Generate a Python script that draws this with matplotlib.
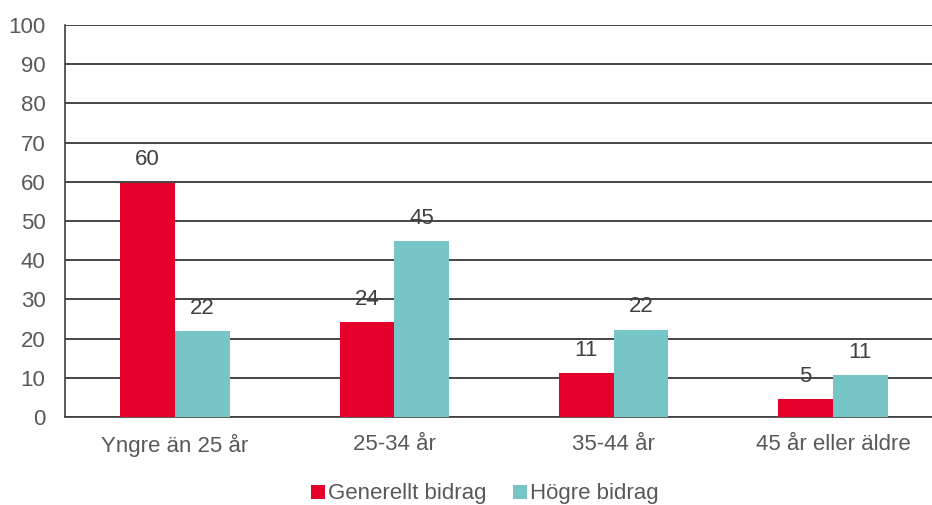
import numpy as np
import matplotlib.pyplot as plt

plt.rcParams['font.family'] = ['Liberation Sans', 'DejaVu Sans']

# data
categories = ['Yngre än 25 år', '25-34 år', '35-44 år', '45 år eller äldre']
generellt = [59.8, 24.3, 11.1, 4.6]
hogre = [22.0, 44.9, 22.3, 10.6]
generellt_labels = ['60', '24', '11', '5']
hogre_labels = ['22', '45', '22', '11']

red = '#E4002B'
teal = '#78C5C7'
txt = '#595959'

fig = plt.figure(figsize=(9.32, 5.05), dpi=100)
ax = fig.add_axes([65/932, 1 - 417/505, (932-65)/932, (417-25)/505])

x = np.arange(len(categories))
w = 0.25
b1 = ax.bar(x - w/2, generellt, w, color=red, label='Generellt bidrag', zorder=3)
b2 = ax.bar(x + w/2, hogre, w, color=teal, label='Högre bidrag', zorder=3)

for bars, labs in [(b1, generellt_labels), (b2, hogre_labels)]:
    for b, l in zip(bars, labs):
        ax.text(b.get_x() + b.get_width()/2, b.get_height() + 3.1, l,
                ha='center', va='bottom', fontsize=16, color='#404040')

ax.set_ylim(0, 100)
ax.set_xlim(-0.502, 3.452)
ax.set_yticks(range(0, 101, 10))
ax.set_xticks(x)
ax.set_xticklabels(categories)
ax.tick_params(axis='both', length=0, labelsize=16, labelcolor=txt)
ax.tick_params(axis='y', pad=14)
ax.tick_params(axis='x', pad=12)
ax.yaxis.grid(True, color='#262626', linewidth=1.2, zorder=0)
ax.set_axisbelow(True)
for s in ['top', 'right']:
    ax.spines[s].set_visible(False)
for s in ['left', 'bottom']:
    ax.spines[s].set_color('#404040')
    ax.spines[s].set_linewidth(1.2)

leg = fig.legend(loc='center', bbox_to_anchor=(485/932, 1 - 494/505), ncol=2,
                 frameon=False, fontsize=16, handlelength=0.6, handleheight=0.6,
                 handletextpad=0.15, columnspacing=1.2, labelcolor=txt)

fig.savefig('out.png', dpi=100)
